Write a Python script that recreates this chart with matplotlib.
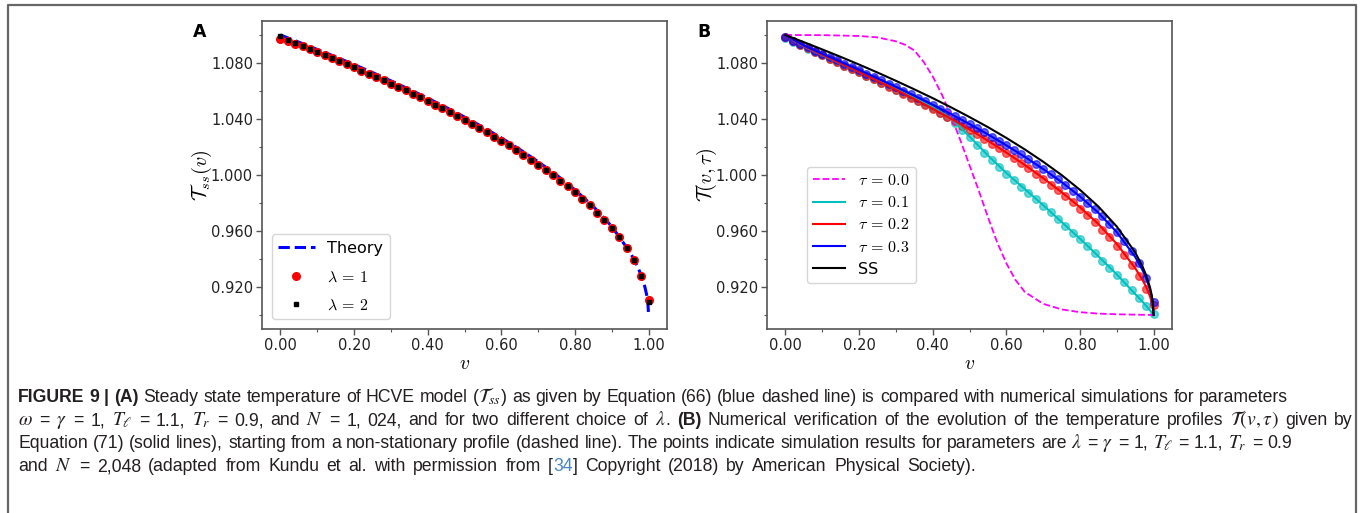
"""Figure 9: steady state profile (A) and relaxation of temperature profiles (B)."""
import matplotlib
matplotlib.use('Agg')
import matplotlib.pyplot as plt
import numpy as np
from matplotlib import font_manager
from matplotlib.lines import Line2D
from matplotlib.ticker import FormatStrFormatter, MultipleLocator
from matplotlib.transforms import IdentityTransform

# ---------------------------------------------------------------- data
# simulation sites (every 0.02 in v)
v_pts = np.linspace(0.0, 1.0, 51)

# panel A, simulation points
lam1_pts = [1.0974, 1.0958, 1.0939, 1.0918, 1.0897, 1.0876, 1.0855, 1.0834, 1.0812, 1.0790,
            1.0768, 1.0745, 1.0723, 1.0699, 1.0676, 1.0652, 1.0628, 1.0604, 1.0579, 1.0554,
            1.0528, 1.0502, 1.0476, 1.0449, 1.0421, 1.0393, 1.0365, 1.0335, 1.0306, 1.0275,
            1.0244, 1.0212, 1.0179, 1.0145, 1.0110, 1.0074, 1.0038, 1.0000, 0.9960, 0.9919,
            0.9876, 0.9831, 0.9783, 0.9732, 0.9678, 0.9619, 0.9555, 0.9481, 0.9394, 0.9281,
            0.9110]
lam2_pts = [1.0990, 1.0962, 1.0940, 1.0918, 1.0897, 1.0876, 1.0855, 1.0834, 1.0812, 1.0790,
            1.0768, 1.0745, 1.0723, 1.0699, 1.0676, 1.0652, 1.0628, 1.0604, 1.0579, 1.0554,
            1.0528, 1.0502, 1.0476, 1.0449, 1.0421, 1.0393, 1.0365, 1.0335, 1.0306, 1.0275,
            1.0244, 1.0212, 1.0179, 1.0145, 1.0110, 1.0074, 1.0038, 1.0000, 0.9960, 0.9919,
            0.9876, 0.9831, 0.9783, 0.9732, 0.9678, 0.9619, 0.9555, 0.9481, 0.9394, 0.9281,
            0.9090]

# panel B, simulation points
tau1_pts = [1.0982, 1.0953, 1.0928, 1.0903, 1.0879, 1.0854, 1.0830, 1.0806, 1.0782, 1.0758,
            1.0734, 1.0710, 1.0685, 1.0660, 1.0635, 1.0610, 1.0584, 1.0558, 1.0531, 1.0504,
            1.0476, 1.0446, 1.0413, 1.0372, 1.0322, 1.0268, 1.0213, 1.0160, 1.0108, 1.0058,
            1.0010, 0.9963, 0.9917, 0.9872, 0.9826, 0.9780, 0.9733, 0.9685, 0.9637, 0.9589,
            0.9540, 0.9490, 0.9440, 0.9389, 0.9338, 0.9286, 0.9233, 0.9178, 0.9122, 0.9065,
            0.9010]
tau2_pts = [1.0983, 1.0955, 1.0930, 1.0905, 1.0880, 1.0855, 1.0831, 1.0807, 1.0782, 1.0758,
            1.0733, 1.0708, 1.0683, 1.0657, 1.0632, 1.0606, 1.0580, 1.0553, 1.0526, 1.0498,
            1.0470, 1.0441, 1.0413, 1.0384, 1.0353, 1.0322, 1.0290, 1.0257, 1.0224, 1.0190,
            1.0155, 1.0120, 1.0084, 1.0048, 1.0010, 0.9972, 0.9932, 0.9892, 0.9850, 0.9806,
            0.9760, 0.9713, 0.9663, 0.9610, 0.9555, 0.9495, 0.9430, 0.9360, 0.9280, 0.9185,
            0.9070]
tau3_pts = [1.0985, 1.0960, 1.0937, 1.0913, 1.0889, 1.0866, 1.0843, 1.0820, 1.0796, 1.0773,
            1.0749, 1.0725, 1.0702, 1.0677, 1.0653, 1.0628, 1.0603, 1.0578, 1.0552, 1.0526,
            1.0500, 1.0473, 1.0447, 1.0420, 1.0391, 1.0363, 1.0334, 1.0304, 1.0275, 1.0244,
            1.0213, 1.0181, 1.0148, 1.0114, 1.0080, 1.0044, 1.0008, 0.9970, 0.9930, 0.9889,
            0.9846, 0.9802, 0.9754, 0.9704, 0.9650, 0.9592, 0.9528, 0.9457, 0.9372, 0.9262,
            0.9090]

# theory curves
v_line = [0.00, 0.05, 0.10, 0.15, 0.20, 0.25, 0.30, 0.35, 0.40, 0.45, 0.50, 0.55, 0.60,
          0.65, 0.70, 0.75, 0.80, 0.85, 0.90, 0.95, 0.97, 0.98, 0.99, 0.995, 0.998, 1.00]
ss_line = [1.1000, 1.0949, 1.0897, 1.0844, 1.0789, 1.0732, 1.0673, 1.0612, 1.0549, 1.0483,
           1.0414, 1.0342, 1.0265, 1.0183, 1.0095, 1.0000, 0.9894, 0.9775, 0.9632, 0.9447,
           0.9346, 0.9283, 0.9200, 0.9141, 0.9089, 0.9000]
tau1_line = [1.1000, 1.0918, 1.0856, 1.0796, 1.0737, 1.0676, 1.0614, 1.0550, 1.0484, 1.0405,
             1.0275, 1.0140, 1.0015, 0.9900, 0.9785, 0.9665, 0.9545, 0.9420, 0.9290, 0.9150,
             0.9095, 0.9065, 0.9035, 0.9018, 0.9008, 0.9000]
tau2_line = [1.1000, 1.0920, 1.0858, 1.0797, 1.0736, 1.0673, 1.0610, 1.0543, 1.0474, 1.0402,
             1.0326, 1.0245, 1.0160, 1.0072, 0.9978, 0.9878, 0.9770, 0.9650, 0.9508, 0.9335,
             0.9250, 0.9200, 0.9135, 0.9090, 0.9055, 0.9000]
tau3_line = [1.1000, 1.0925, 1.0866, 1.0808, 1.0750, 1.0690, 1.0630, 1.0567, 1.0502, 1.0435,
             1.0364, 1.0290, 1.0212, 1.0130, 1.0043, 0.9950, 0.9847, 0.9730, 0.9592, 0.9415,
             0.9320, 0.9262, 0.9185, 0.9130, 0.9082, 0.9000]

# initial (non-stationary) profile
v_init = [0.00, 0.10, 0.20, 0.25, 0.30, 0.325, 0.35, 0.375, 0.40, 0.425, 0.45, 0.475, 0.50,
          0.525, 0.55, 0.575, 0.60, 0.625, 0.65, 0.70, 0.75, 0.80, 0.85, 0.90, 1.00]
tau0_line = [1.1000, 1.0999, 1.0993, 1.0983, 1.0955, 1.0930, 1.0890, 1.0810, 1.0705, 1.0575,
             1.0420, 1.0250, 1.0070, 0.9890, 0.9700, 0.9520, 0.9370, 0.9250, 0.9165, 0.9080,
             0.9040, 0.9020, 0.9010, 0.9005, 0.9000]

# caption: runs of (text, kind) with kind r=regular, b=bold, m=math, l=link
caption = [
    [("FIGURE 9 | (A)", 'b'), (" Steady state temperature of HCVE model (", 'r'),
     (r"$\mathcal{T}_{ss}$", 'm'),
     (") as given by Equation (66) (blue dashed line) is compared with numerical "
      "simulations for parameters", 'r')],
    [(r"$\omega$", 'm'), (" = ", 'r'), (r"$\gamma$", 'm'), (" = 1, ", 'r'),
     (r"$T_\ell$", 'm'), (" = 1.1, ", 'r'), (r"$T_r$", 'm'), (" = 0.9, and ", 'r'),
     (r"$N$", 'm'), (" = 1, 024, and for two different choice of ", 'r'),
     (r"$\lambda$", 'm'), (". ", 'r'), ("(B)", 'b'),
     (" Numerical verification of the evolution of the temperature profiles ", 'r'),
     (r"$\mathcal{T}(v, \tau)$", 'm'), (" given by", 'r')],
    [("Equation (71) (solid lines), starting from a non-stationary profile (dashed line). "
      "The points indicate simulation results for parameters are ", 'r'),
     (r"$\lambda$", 'm'), (" = ", 'r'), (r"$\gamma$", 'm'), (" = 1, ", 'r'),
     (r"$T_\ell$", 'm'), (" = 1.1, ", 'r'), (r"$T_r$", 'm'), (" = 0.9", 'r')],
    [("and ", 'r'), (r"$N$", 'm'),
     (" = 2,048 (adapted from Kundu et al. with permission from [", 'r'), ("34", 'l'),
     ("] Copyright (2018) by American Physical Society).", 'r')],
]
caption_ends = [1288, 1353, 1292, 1005]

# ---------------------------------------------------------------- style
W, H = 1360, 513
plt.rcParams['mathtext.fontset'] = 'cm'
plt.rcParams['axes.unicode_minus'] = False

names = {f.name for f in font_manager.fontManager.ttflist}
CAP_FONT = 'Liberation Sans Narrow' if 'Liberation Sans Narrow' in names else 'Liberation Sans'
SPINE = '#555555'

fig = plt.figure(figsize=(W / 100, H / 100), dpi=100)
px = IdentityTransform()


def style_axes(ax):
    ax.set_xlim(-0.05, 1.05)
    ax.set_ylim(0.89, 1.11)
    ax.xaxis.set_major_locator(MultipleLocator(0.2))
    ax.xaxis.set_minor_locator(MultipleLocator(0.1))
    ax.set_yticks([0.92, 0.96, 1.00, 1.04, 1.08])
    ax.yaxis.set_minor_locator(MultipleLocator(0.02))
    ax.xaxis.set_major_formatter(FormatStrFormatter('%.2f'))
    ax.yaxis.set_major_formatter(FormatStrFormatter('%.3f'))
    ax.tick_params(which='major', length=4, width=1, colors=SPINE,
                   labelcolor='#222222', labelsize=10.5, pad=2.5)
    ax.tick_params(which='minor', length=2.5, width=0.8, colors=SPINE)
    for s in ax.spines.values():
        s.set_color(SPINE)
        s.set_linewidth(1.2)
    ax.set_xlabel(r'$v$', fontsize=14, labelpad=1)
    ax.yaxis.set_label_coords(-0.118, 0.5)


# ---------------------------------------------------------------- panel A
axA = fig.add_axes([262 / W, 184 / H, 405 / W, 308 / H])
axA.plot(v_line, ss_line, '--', color='blue', lw=2.2, label='Theory', zorder=2)
axA.plot(v_pts, lam1_pts, 'o', color='red', ms=5.5, ls='none',
         label=r'$\lambda \,=\, 1$', zorder=3)
axA.plot(v_pts, lam2_pts, 's', color='black', ms=2.6, ls='none',
         label=r'$\lambda \,=\, 2$', zorder=4)
style_axes(axA)
axA.set_ylabel(r'$\mathcal{T}_{ss}(v)$', fontsize=14.5)
axA.legend(loc='lower left', fontsize=11.5, borderaxespad=0.6, handlelength=2.3,
           labelspacing=0.85)

# ---------------------------------------------------------------- panel B
axB = fig.add_axes([767 / W, 184 / H, 405 / W, 308 / H])
axB.plot(v_pts, tau1_pts, 'o', color='#00bfbf', ms=5.5, alpha=0.6, ls='none', zorder=2)
axB.plot(v_pts, tau2_pts, 'o', color='red', ms=5.5, alpha=0.6, ls='none', zorder=2)
axB.plot(v_pts, tau3_pts, 'o', color='blue', ms=5.5, alpha=0.6, ls='none', zorder=2)
axB.plot(v_init, tau0_line, '--', color='magenta', lw=1.3, label=r'$\tau \,=\, 0.0$', zorder=3)
axB.plot(v_line, tau1_line, color='#00bfbf', lw=1.5, label=r'$\tau \,=\, 0.1$', zorder=3)
axB.plot(v_line, tau2_line, color='red', lw=1.5, label=r'$\tau \,=\, 0.2$', zorder=3)
axB.plot(v_line, tau3_line, color='blue', lw=1.5, label=r'$\tau \,=\, 0.3$', zorder=3)
axB.plot(v_line, ss_line, color='black', lw=1.5, label='SS', zorder=3)
style_axes(axB)
axB.set_ylabel(r'$\mathcal{T}(v,\tau)$', fontsize=14.5)
axB.legend(loc='lower left', bbox_to_anchor=(0.099, 0.149), borderaxespad=0,
           fontsize=11.5, handlelength=2.0, labelspacing=0.45)

# panel letters
fig.text(193, H - 37, 'A', fontsize=12.5, weight='bold', transform=px, va='baseline')
fig.text(697, H - 37, 'B', fontsize=12.5, weight='bold', transform=px, va='baseline')

# outer frame (open at the bottom)
fig.add_artist(Line2D([7.5, 7.5, 1355.5, 1355.5], [0, H - 4.5, H - 4.5, 0],
                      transform=px, color='#666666', lw=1.6))

# ---------------------------------------------------------------- caption
renderer = fig.canvas.get_renderer()


def make_text(x, y, s, kind, size):
    kw = dict(fontsize=size, family=CAP_FONT, color='#231f20', va='baseline',
              ha='left', transform=px)
    if kind == 'b':
        kw['weight'] = 'bold'
    elif kind == 'l':
        kw['color'] = '#4a86c5'
    elif kind == 'm':
        kw['math_fontfamily'] = 'stix'
        kw['fontsize'] = size * 1.12
    return fig.text(x, y, s, **kw)


def text_width(s, kind, size):
    t = make_text(0, 0, s, kind, size)
    w = t.get_window_extent(renderer).width
    t.remove()
    return w


def tokens_of(runs):
    """Split runs into words; each token remembers if a space precedes it."""
    toks = []
    space = False
    for s, kind in runs:
        if kind == 'm':
            toks.append((s, kind, space))
            space = False
            continue
        for j, part in enumerate(s.split(' ')):
            if j > 0:
                space = True
            if part:
                toks.append((part, kind, space))
                space = False
    return toks


def natural_width(runs, size):
    sp = text_width('a a', 'r', size) - text_width('aa', 'r', size)
    toks = tokens_of(runs)
    return sum(text_width(s, k, size) for s, k, _ in toks) + sp * sum(b for _, _, b in toks)


def draw_line(x, y, runs, size, end):
    sp = text_width('a a', 'r', size) - text_width('aa', 'r', size)
    toks = tokens_of(runs)
    widths = [text_width(s, k, size) for s, k, _ in toks]
    n_sp = sum(b for _, _, b in toks)
    extra = (end - x - sum(widths) - sp * n_sp) / max(n_sp, 1)
    extra = min(max(extra, -1.5), 2.5)
    for (s, kind, b), w in zip(toks, widths):
        if b:
            x += sp + extra
        make_text(x, y, s, kind, size)
        x += w


# size the caption font from the first line, then fit each line to its end
x0 = 18
cap_size = 12 * (caption_ends[0] - x0) / natural_width(caption[0], 12)
for i, runs in enumerate(caption):
    draw_line(x0, H - (402 + 23 * i), runs, cap_size, caption_ends[i])

fig.savefig('out.png', dpi=100)
